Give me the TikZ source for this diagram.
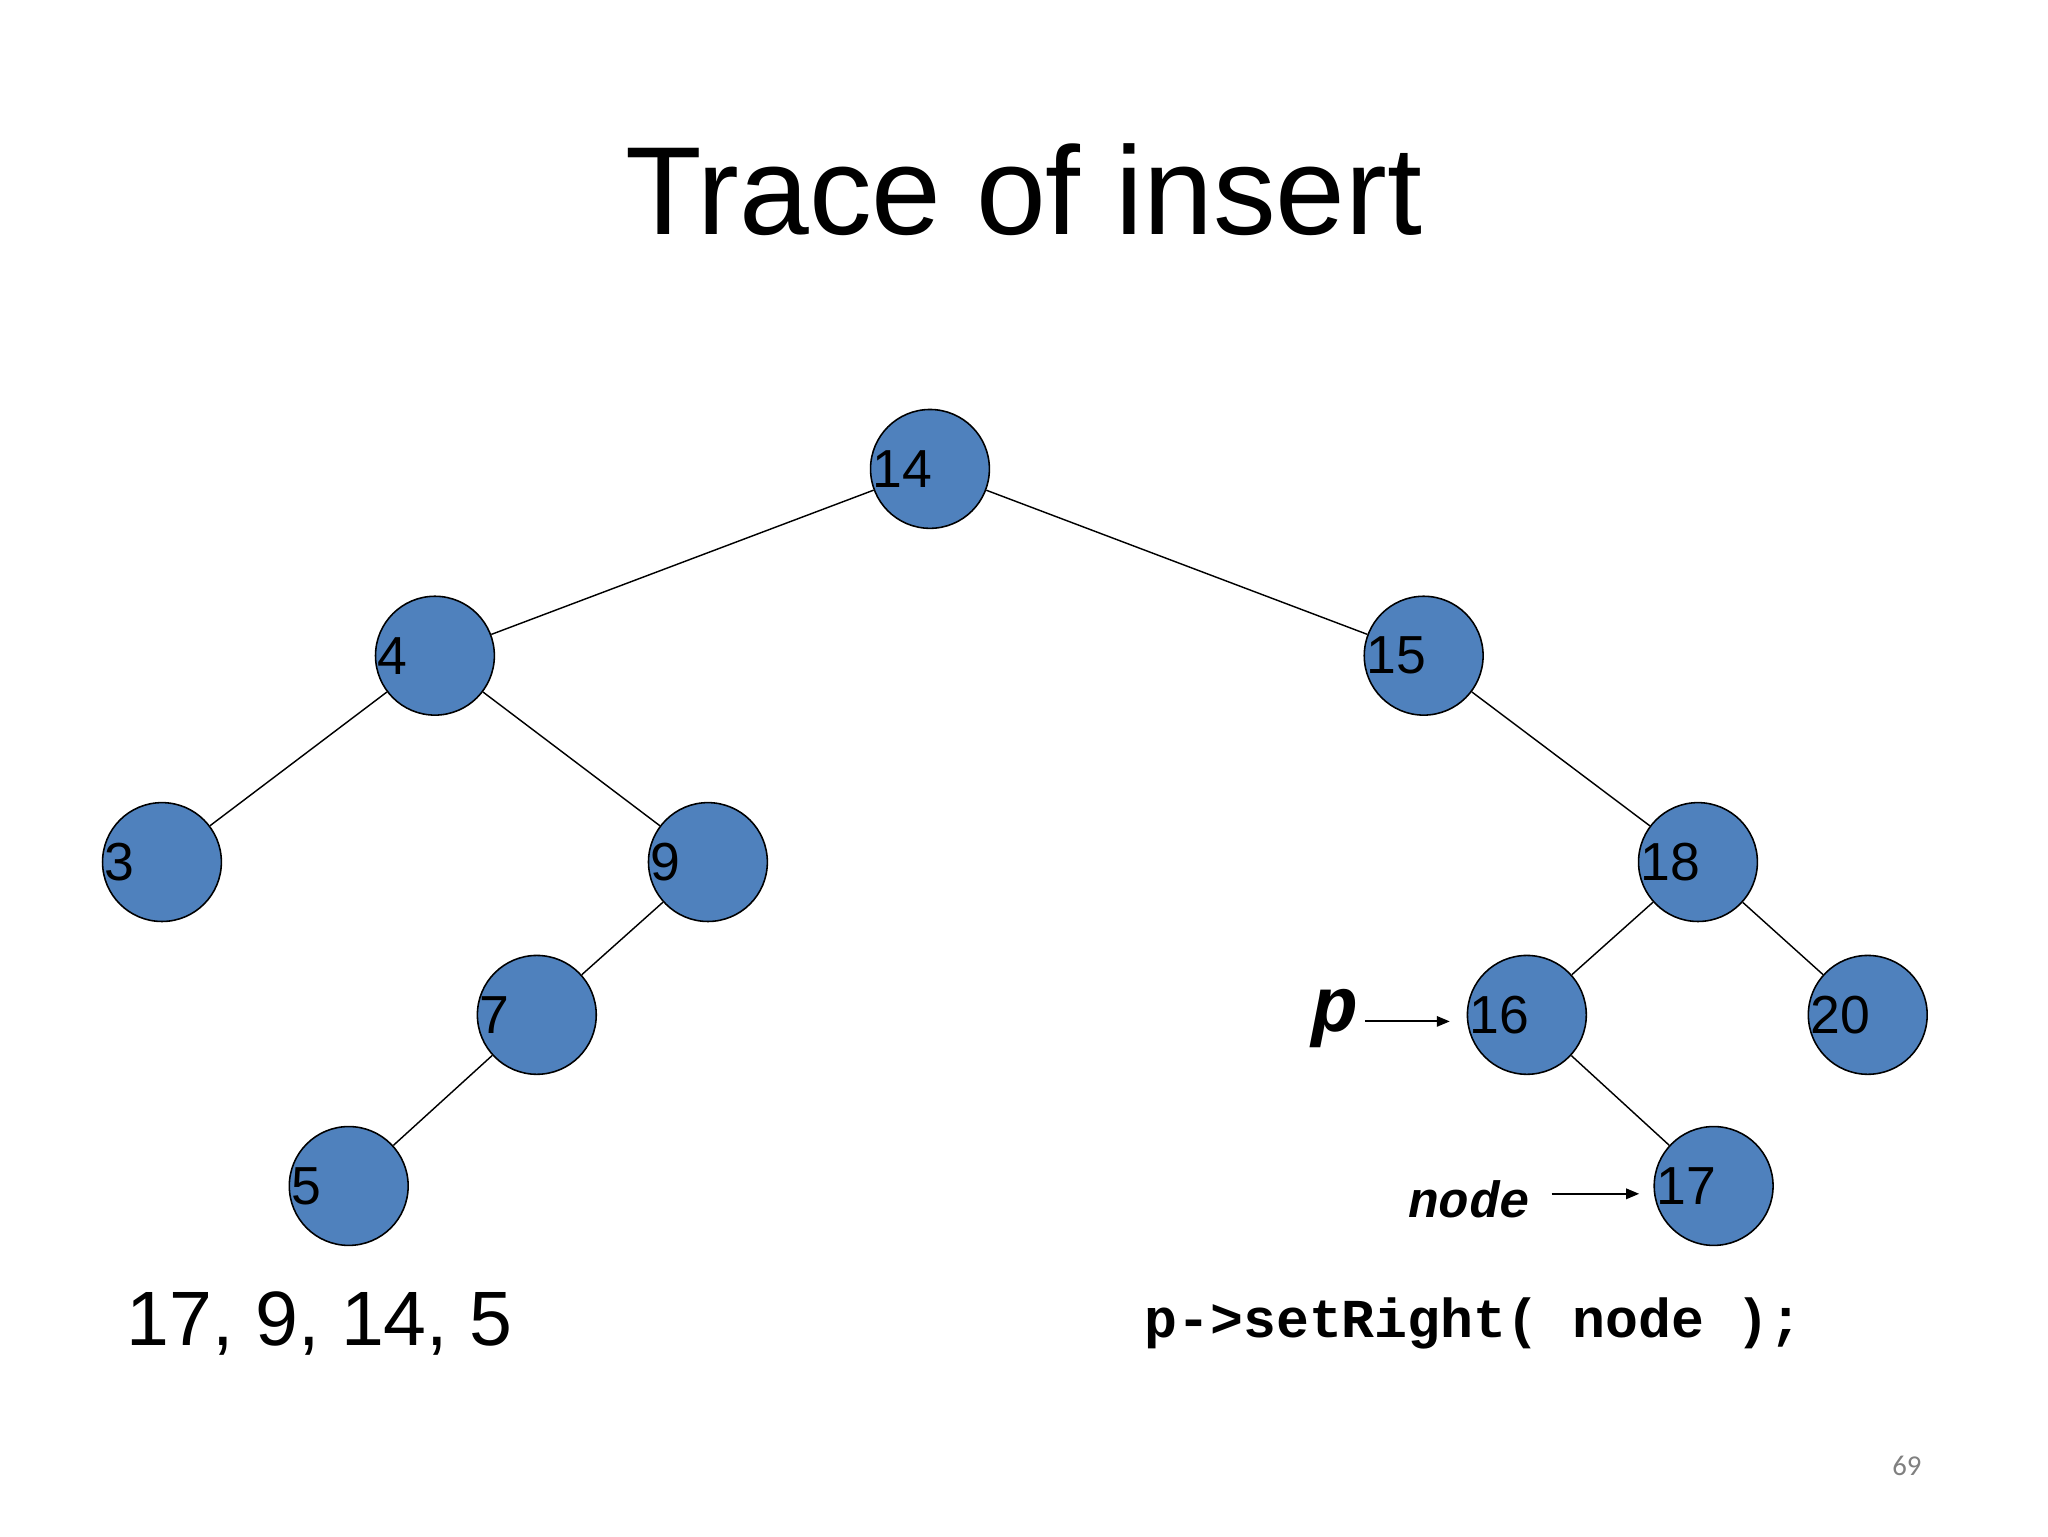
\documentclass[tikz,border=0pt]{standalone}
\usepackage{fontspec}
\setmainfont{Liberation Sans}
\setmonofont{Liberation Mono}
\newfontfamily\carl{Carlito}
\usetikzlibrary{arrows.meta}
\definecolor{nodeblue}{HTML}{4F81BD}
\begin{document}
\begin{tikzpicture}[x=1pt,y=-1pt,
  tn/.style={circle,draw=black,line width=1.2pt,fill=nodeblue,minimum size=91pt,inner sep=0pt},
  lbl/.style={anchor=west,inner sep=0pt,font=\fontsize{41}{41}\selectfont},
  edge/.style={line width=1.1pt},
  arr/.style={line width=1.4pt,-{Triangle[length=10pt,width=8pt]}}]
\useasboundingbox (0,0) rectangle (1568,1176);
\node[font=\fontsize{96}{96}\selectfont] (title) at (784,145) {Trace of insert};
\foreach \n/\x/\y in {14/712/359,4/333/502,15/1090/502,3/124/660,9/542/660,18/1300/660,7/411/777,16/1169/777,20/1430/777,5/267/908,17/1312/908}{
  \node[tn] (n\n) at (\x,\y) {};
  \node[lbl] (l\n) at ([xshift=2pt]n\n.west) {\n};
}
\draw[edge] (n14) -- (n4);
\draw[edge] (n14) -- (n15);
\draw[edge] (n4) -- (n3);
\draw[edge] (n4) -- (n9);
\draw[edge] (n9) -- (n7);
\draw[edge] (n7) -- (n5);
\draw[edge] (n15) -- (n18);
\draw[edge] (n18) -- (n16);
\draw[edge] (n18) -- (n20);
\draw[edge] (n16) -- (n17);
\node[font=\fontsize{60}{60}\selectfont\ttfamily\bfseries\itshape,anchor=east,inner sep=0pt] (p) at (1040,780) {p};
\coordinate (pa) at (1110,782);
\coordinate (ps) at (1045,782);
\draw[arr] (ps) -- (pa);
\node[font=\fontsize{39}{39}\selectfont\ttfamily\bfseries\itshape,anchor=east,inner sep=0pt] (nd) at (1172,918) {node};
\coordinate (ns) at (1188,914);
\coordinate (na) at (1255,914);
\draw[arr] (ns) -- (na);
\node[font=\fontsize{59}{59}\selectfont,anchor=west,inner sep=0pt] (seq) at (97,1013) {17, 9, 14, 5};
\node[font=\fontsize{42}{42}\selectfont\ttfamily\bfseries,anchor=west,inner sep=0pt] (code) at (876,1013) {p->setRight( node );};
\node[font=\fontsize{22}{22}\selectfont\carl,text=gray] (pg) at (1460,1122) {69};
\end{tikzpicture}
\end{document}
